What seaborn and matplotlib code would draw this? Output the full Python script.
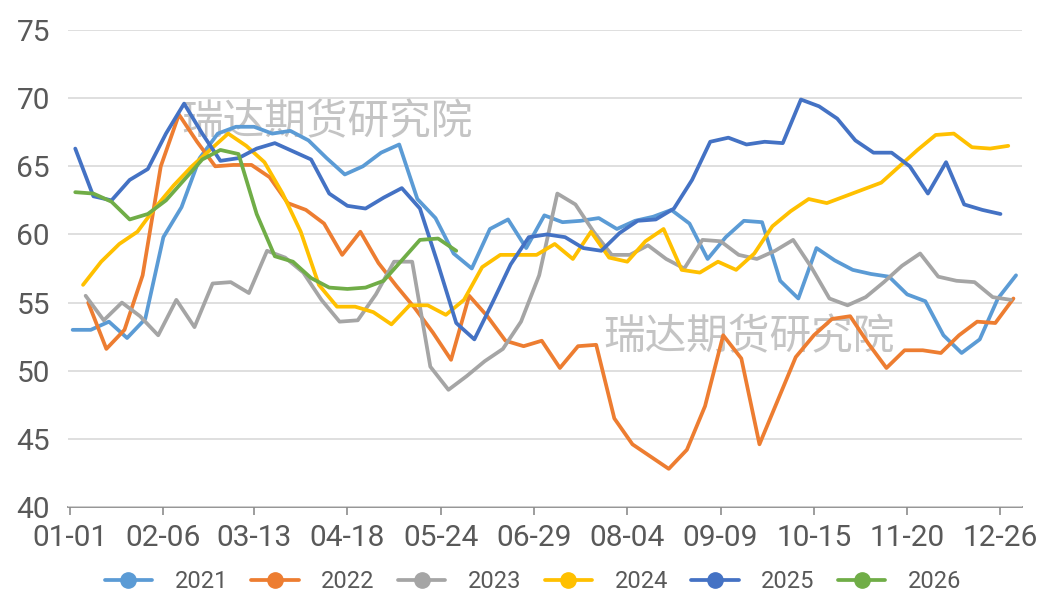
import matplotlib
matplotlib.use("Agg")
import matplotlib.pyplot as plt
from matplotlib.lines import Line2D
import seaborn as sns
import pandas as pd

# x axis labels (month-day)
tick_labels = ["01-01", "02-06", "03-13", "04-18", "05-24", "06-29",
               "08-04", "09-09", "10-15", "11-20", "12-26"]

years = ["2021", "2022", "2023", "2024", "2025", "2026"]
colors = ["#5B9BD5", "#ED7D31", "#A5A5A5", "#FFC000", "#4472C4", "#70AD47"]

# first weekly observation of each year (month-day)
first_obs = {"2021": "01-02", "2022": "01-08", "2023": "01-07",
             "2024": "01-06", "2025": "01-03", "2026": "01-03"}

v2021 = [53.0, 53.0, 53.6, 52.4, 53.8, 59.8, 62.0, 65.6, 67.4, 67.9, 67.9, 67.4,
         67.6, 66.9, 65.6, 64.4, 65.0, 66.0, 66.6, 62.6, 61.2, 58.6, 57.5, 60.4,
         61.1, 59.0, 61.4, 60.9, 61.0, 61.2, 60.4, 61.0, 61.3, 61.8, 60.8, 58.2,
         59.8, 61.0, 60.9, 56.6, 55.3, 59.0, 58.1, 57.4, 57.1, 56.9, 55.6, 55.1,
         52.6, 51.3, 52.3, 55.3, 57.0]
v2022 = [55.0, 51.6, 53.0, 57.0, 65.0, 68.8, 66.8, 65.0, 65.1, 65.1, 64.2, 62.3,
         61.8, 60.8, 58.5, 60.2, 57.9, 56.2, 54.6, 52.8, 50.8, 55.5, 54.0, 52.2,
         51.8, 52.2, 50.2, 51.8, 51.9, 46.5, 44.6, 43.7, 42.8, 44.2, 47.4, 52.6,
         50.9, 44.6, 47.8, 51.0, 52.6, 53.8, 54.0, 52.0, 50.2, 51.5, 51.5, 51.3,
         52.6, 53.6, 53.5, 55.3]
v2023 = [55.5, 53.7, 55.0, 54.0, 52.6, 55.2, 53.2, 56.4, 56.5, 55.7, 58.8, 58.3,
         57.2, 55.2, 53.6, 53.7, 55.6, 58.0, 58.0, 50.3, 48.6, 49.6, 50.7, 51.6,
         53.6, 57.0, 63.0, 62.2, 60.2, 58.5, 58.5, 59.2, 58.2, 57.5, 59.6, 59.5,
         58.5, 58.2, 58.8, 59.6, 57.6, 55.3, 54.8, 55.4, 56.5, 57.7, 58.6, 56.9,
         56.6, 56.5, 55.4, 55.2]
v2024 = [56.3, 58.0, 59.3, 60.2, 62.0, 63.6, 65.0, 66.2, 67.4, 66.5, 65.3, 63.0,
         60.2, 56.3, 54.7, 54.7, 54.3, 53.4, 54.8, 54.8, 54.1, 55.2, 57.6, 58.5,
         58.5, 58.5, 59.3, 58.2, 60.2, 58.3, 58.0, 59.5, 60.4, 57.4, 57.2, 58.0,
         57.4, 58.6, 60.6, 61.7, 62.6, 62.3, 62.8, 63.3, 63.8, 65.0, 66.2, 67.3,
         67.4, 66.4, 66.3, 66.5]
v2025 = [66.3, 62.8, 62.5, 64.0, 64.8, 67.4, 69.6, 67.4, 65.4, 65.6, 66.3, 66.7,
         66.1, 65.5, 63.0, 62.1, 61.9, 62.7, 63.4, 61.9, 57.8, 53.5, 52.3, 55.0,
         57.8, 59.8, 60.0, 59.8, 59.0, 58.8, 60.1, 61.0, 61.1, 61.9, 64.0, 66.8,
         67.1, 66.6, 66.8, 66.7, 69.9, 69.4, 68.5, 66.9, 66.0, 66.0, 65.0, 63.0,
         65.3, 62.2, 61.8, 61.5]
v2026 = [63.1, 63.0, 62.4, 61.1, 61.5, 62.5, 64.0, 65.5, 66.2, 65.9, 61.5, 58.4,
         58.0, 56.8, 56.1, 56.0, 56.1, 56.6, 58.1, 59.6, 59.7, 58.8]

series = {"2021": v2021, "2022": v2022, "2023": v2023,
          "2024": v2024, "2025": v2025, "2026": v2026}

base = pd.Timestamp("2021-01-01")
frames = []
for yr, vals in series.items():
    dates = pd.date_range(f"2021-{first_obs[yr]}", periods=len(vals), freq="7D")
    frames.append(pd.DataFrame({"day": (dates - base).days, "value": vals, "year": yr}))
df = pd.concat(frames, ignore_index=True)

tick_days = [(pd.Timestamp(f"2021-{t}") - base).days for t in tick_labels]

sns.set_theme(style="white")
plt.rcParams["font.family"] = ["Roboto", "DejaVu Sans"]

fig = plt.figure(figsize=(10.51, 6.04), dpi=100)
ax = fig.add_axes([0.0647, 0.1606, 0.9077, 0.7897])

palette = dict(zip(years, colors))
sns.lineplot(data=df, x="day", y="value", hue="year", hue_order=years,
             palette=palette, linewidth=2.7, sort=False, estimator=None,
             legend=False, ax=ax, zorder=3)

# watermarks
for x, y in [(99, 68.2), (262, 52.4)]:
    ax.text(x, y, "瑞达期货研究院", fontsize=30, color="#C4C4C4",
            family=["Noto Sans CJK SC", "DejaVu Sans"],
            ha="center", va="center", zorder=1)

ax.set_xlim(-0.8, 367.3)
ax.set_ylim(40, 75)
ax.set_xticks(tick_days)
ax.set_xticklabels(tick_labels)
ax.set_yticks(range(40, 80, 5))
ax.set_xlabel("")
ax.set_ylabel("")

ax.yaxis.grid(True, color="#D9D9D9", linewidth=1.2)
ax.xaxis.grid(False)
ax.set_axisbelow(True)
for s in ["top", "right", "left"]:
    ax.spines[s].set_visible(False)
ax.spines["bottom"].set_color("#8C8C8C")
ax.spines["bottom"].set_linewidth(1.3)
ax.spines["bottom"].set_zorder(0.5)

ax.tick_params(axis="x", bottom=True, length=6, width=1.2, color="#8C8C8C",
               pad=6, labelsize=21.5, labelcolor="#595959")
ax.tick_params(axis="y", left=False, length=0, pad=13, labelsize=21.5,
               labelcolor="#595959")

handles = [Line2D([], [], color=c, linewidth=2.7, marker="o", markersize=11)
           for c in colors]
fig.legend(handles, years, loc="center", bbox_to_anchor=(533 / 1051, 1 - 582 / 604),
           ncol=6, frameon=False, fontsize=17, handlelength=2.0,
           handletextpad=0.95, columnspacing=1.0, labelcolor="#595959")

fig.savefig("out.png", dpi=100)
